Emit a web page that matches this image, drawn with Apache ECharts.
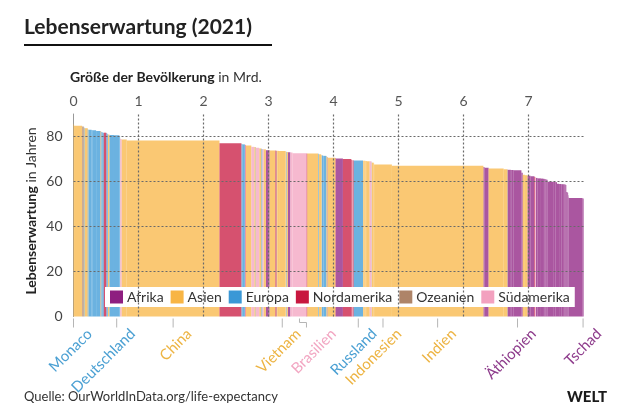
<!DOCTYPE html>
<html><head><meta charset="utf-8">
<script src="https://cdn.jsdelivr.net/npm/echarts@6/dist/echarts.min.js"></script>
<style>html,body{margin:0;padding:0;background:#fff}#c{width:630px;height:420px}</style>
</head><body><div id="c"></div>
<script>
// Countries sorted by life expectancy (2021), population in millions
const countries = ['Monaco','Hongkong','Macau','Japan','Australien','Schweiz','Südkorea','Norwegen','Singapur','Spanien','Schweden','Italien','Island','Frankreich','Neuseeland','Israel','Irland','Finnland','Belgien','Niederlande','Kanada','Österreich','Dänemark','Portugal','Taiwan','Slowenien','Großbritannien','Deutschland','Griechenland','Katar','Chile','Thailand','VAE','China','USA','Kroatien','Tschechien','Polen','Albanien','Costa Rica','Panama','Uruguay','Türkei','Argentinien','Sri Lanka','Bosnien und Herzegowina','Kolumbien','Malaysia','Slowakei','Ungarn','Ecuador','Saudi-Arabien','Algerien','Tunesien','Iran','Nicaragua','Kuba','Litauen','Jordanien','Nordkorea','Vietnam','Oman','Libanon','Serbien','Syrien','Marokko','Peru','Brasilien','Dominikanische Republik','Bangladesch','Belarus','Usbekistan','Armenien','Georgien','Kuwait','Bahrain','Rumänien','Bulgarien','Ukraine','Tadschikistan','Mongolei','Palästina','Libyen','Philippinen','Fidschi','El Salvador','Ägypten','Mexiko','Jamaika','Honduras','Paraguay','Guatemala','Russland','Kirgisistan','Kasachstan','Aserbaidschan','Turkmenistan','Kambodscha','Irak','Venezuela','Moldau','Nepal','Laos','Indonesien','Indien','Senegal','Tansania','Pakistan','Myanmar','Papua-Neuguinea','Sudan','Ruanda','Madagaskar','Äthiopien','Malawi','Jemen','Afghanistan','Uganda','Südafrika','Haiti','Bolivien','Niger','Kenia','Ghana','Sambia','Simbabwe','Togo','Benin','Burundi','DR Kongo','Kamerun','Burkina Faso','Mosambik','Angola','Elfenbeinküste','Mali','Guinea','Sierra Leone','Liberia','Somalia','Südsudan','Zentralafrikanische Republik','Lesotho','Nigeria','Tschad'];
const continentCodes = ['Eu','As','As','As','Oz','Eu','As','Eu','As','Eu','Eu','Eu','Eu','Eu','Oz','As','Eu','Eu','Eu','Eu','NA','Eu','Eu','Eu','As','Eu','Eu','Eu','Eu','As','SA','As','As','As','NA','Eu','Eu','Eu','Eu','NA','NA','SA','As','SA','As','Eu','SA','As','Eu','Eu','SA','As','Af','Af','As','NA','NA','Eu','As','As','As','As','As','Eu','As','Af','SA','SA','NA','As','Eu','As','As','As','As','As','Eu','Eu','Eu','As','As','As','Af','As','Oz','NA','Af','NA','NA','NA','SA','NA','Eu','As','As','As','As','As','As','SA','Eu','As','As','As','As','Af','Af','As','As','Oz','Af','Af','Af','Af','Af','As','As','Af','Af','NA','SA','Af','Af','Af','Af','Af','Af','Af','Af','Af','Af','Af','Af','Af','Af','Af','Af','Af','Af','Af','Af','Af','Af','Af','Af'];
const population = [0.04,7.5,0.7,124.6,25.9,8.7,51.8,5.4,5.9,47.5,10.5,59.2,0.4,64.5,5.1,8.9,5.0,5.5,11.6,17.5,38.2,9.0,5.9,10.3,23.9,2.1,67.3,83.4,10.4,2.7,19.5,71.6,9.4,1425.9,336.5,4.1,10.5,38.3,2.9,5.2,4.4,3.4,84.8,45.3,21.8,3.3,51.5,33.6,5.4,9.7,17.8,35.9,44.2,12.3,87.9,6.9,11.3,2.8,11.1,26.1,97.5,4.5,5.6,6.8,21.3,37.1,33.7,214.3,11.1,169.4,9.3,34.1,2.8,3.8,4.3,1.5,19.1,6.9,43.5,9.8,3.3,5.1,6.7,113.9,0.9,6.3,109.3,126.7,2.8,10.3,6.7,17.6,145.1,6.5,19.2,10.3,6.3,16.6,43.5,28.2,2.6,30.0,7.4,273.8,1407.6,16.9,63.6,231.4,53.8,9.9,46.9,13.5,29.0,120.3,19.9,32.9,40.1,45.9,59.4,11.4,12.1,25.3,53.0,32.8,19.5,16.0,8.6,12.9,12.6,95.9,27.2,22.1,32.1,34.5,27.5,21.9,13.5,8.4,5.2,17.1,10.7,5.5,2.3,213.4,17.2];
const lifeExpectancy = [85.9,85.5,85.4,84.8,84.5,84.0,83.7,83.2,83.0,83.0,82.9,82.8,82.7,82.5,82.5,82.3,82.0,82.0,81.9,81.7,81.7,81.6,81.4,81.0,80.9,80.7,80.7,80.6,80.1,79.3,78.9,78.7,78.7,78.2,77.0,76.9,76.7,76.5,76.4,76.3,76.2,76.1,76.0,75.4,75.3,75.2,75.0,74.7,74.6,74.5,74.4,74.3,73.9,73.9,73.8,73.8,73.7,73.7,73.7,73.6,73.6,73.4,73.3,73.2,73.1,73.0,72.9,72.6,72.5,72.4,72.3,72.1,72.0,71.9,71.8,71.7,71.6,71.5,71.4,71.2,71.0,70.9,70.8,70.6,70.5,70.4,70.2,70.0,69.8,69.7,69.6,69.5,69.3,69.2,69.2,69.2,69.1,69.1,69.0,69.0,68.8,68.4,68.1,67.6,67.0,66.4,66.1,65.8,65.5,65.3,65.2,65.1,65.1,65.0,63.9,63.0,62.8,62.6,62.3,62.1,62.0,61.6,61.4,61.3,61.2,61.1,61.0,60.9,60.8,59.9,59.8,59.7,59.0,58.9,58.8,58.8,58.7,58.6,58.5,55.3,55.0,53.9,53.1,52.7,52.5];
const continents = ['Afrika','Asien','Europa','Nordamerika','Ozeanien','Südamerika'];
const continentKeys = ['Af','As','Eu','NA','Oz','SA'];
const labeledCountries = ['Monaco','Deutschland','China','Vietnam','Brasilien','Russland','Indonesien','Indien','Äthiopien','Tschad'];
const xTicks = [0,1,2,3,4,5,6,7];
const yTicks = [0,20,40,60,80];

const colors = ['#8E1E80','#F8B544','#3A98D6','#C8173F','#AE8468','#F3A1BF'];
const labelColors = ['#8E3C8C','#EDB443','#4BA0D3','#C8173F','#AE8468','#F2A6C2'];
const FONT = 'Lato, "Noto Sans", sans-serif';

// cumulative population (billions)
const rows = [];
let cum = 0;
countries.forEach((n, i) => {
  const x0 = cum / 1000; cum += population[i]; const x1 = cum / 1000;
  rows.push({name: n, ci: continentKeys.indexOf(continentCodes[i]), x0, x1, le: lifeExpectancy[i]});
});
const total = cum / 1000;
const PX_PER_BN = 65;

const chart = echarts.init(document.getElementById('c'), null, {renderer: 'canvas'});

const barSeries = continents.map((c, ci) => ({
  type: 'custom', name: c, z: 2, animation: false,
  itemStyle: {color: colors[ci]},
  encode: {x: [0, 1], y: 2},
  renderItem: (params, api) => {
    const a = api.coord([api.value(0), api.value(2)]);
    const b = api.coord([api.value(1), 0]);
    return {type: 'rect', shape: {x: a[0], y: a[1], width: b[0] - a[0], height: b[1] - a[1]},
      style: {fill: colors[ci], opacity: 0.75}};
  },
  data: rows.filter(r => r.ci === ci).map(r => [r.x0, r.x1, r.le, r.name])
}));

const labelRows = rows.filter(r => labeledCountries.includes(r.name));
const labelSeries = {
  type: 'custom', z: 5, silent: true, animation: false, clip: false,
  encode: {x: 0, y: 1},
  renderItem: (params, api) => {
    const r = labelRows[params.dataIndex];
    const p = api.coord([api.value(0), 0]);
    const y0 = p[1] + 2, y1 = p[1] + 11;
    let tx = p[0];
    const children = [];
    if (r.name === 'Brasilien') {
      const ex = p[0] + 7;
      children.push({type: 'polyline', shape: {points: [[p[0], y0], [p[0], y0 + 4], [ex, y0 + 4], [ex, y1]]},
        style: {stroke: '#b5b5b5', lineWidth: 1, fill: null}});
      tx = p[0] + 18;
    } else {
      children.push({type: 'line', shape: {x1: p[0], y1: y0, x2: p[0], y2: y1}, style: {stroke: '#b5b5b5', lineWidth: 1}});
    }
    children.push({type: 'text', x: tx + 16, y: p[1] + 15, rotation: Math.PI / 4,
      style: {text: r.name, fill: labelColors[r.ci], font: '15px ' + FONT, align: 'right', verticalAlign: 'middle'}});
    return {type: 'group', children};
  },
  data: labelRows.map(r => [(r.x0 + r.x1) / 2, 0])
};

const gridSeries = {
  type: 'line', data: [], z: 1, silent: true, animation: false,
  markLine: {
    silent: true, symbol: ['none', 'none'], animation: false, label: {show: false},
    lineStyle: {type: [2, 2], color: '#6a6a6a', width: 1.2},
    data: yTicks.slice(1).map(v => ({yAxis: v})).concat(xTicks.slice(1).map(v => ({xAxis: v})))
  }
};

chart.setOption({
  animation: false,
  backgroundColor: '#fff',
  grid: {left: 73.5, top: 114, width: total * PX_PER_BN, height: 202.5},
  xAxis: {
    type: 'value', position: 'top', min: 0, max: total, interval: 1,
    axisLine: {show: false}, axisTick: {show: false}, splitLine: {show: false},
    axisLabel: {margin: 6, color: '#555', fontSize: 14, fontFamily: FONT,
      formatter: v => (xTicks.includes(v) ? String(v) : '')}
  },
  yAxis: {
    type: 'value', min: 0, max: 90, interval: 20,
    axisLine: {show: true, lineStyle: {color: '#999', width: 1}}, axisTick: {show: false}, splitLine: {show: false},
    axisLabel: {margin: 11, color: '#444', fontSize: 14, fontFamily: FONT,
      formatter: v => (yTicks.includes(v) ? String(v) : '')}
  },
  legend: {
    data: continents, left: 105, top: 287, icon: 'rect', itemWidth: 13, itemHeight: 13, itemGap: 7,
    backgroundColor: '#fff', padding: [3, 5], selectedMode: false,
    textStyle: {fontSize: 14, color: '#333', fontFamily: FONT, padding: [0, 0, 0, -1]}
  },
  graphic: [
    {type: 'text', left: 24, top: 17, style: {text: 'Lebenserwartung (2021)', font: 'bold 21px ' + FONT, fill: '#222'}},
    {type: 'rect', left: 24, top: 44, shape: {width: 248, height: 2}, style: {fill: '#111'}},
    {type: 'text', left: 70, top: 70, style: {
      text: '{b|Größe der Bevölkerung}{n| in Mrd.}',
      rich: {b: {font: 'bold 14px ' + FONT, fill: '#222'}, n: {font: '14px ' + FONT, fill: '#333'}}}},
    {type: 'text', x: 31, y: 211, rotation: Math.PI / 2, style: {
      text: '{b|Lebenserwartung}{n| in Jahren}', align: 'center', verticalAlign: 'middle',
      rich: {b: {font: 'bold 14px ' + FONT, fill: '#222'}, n: {font: '14px ' + FONT, fill: '#333'}}}},
    {type: 'text', left: 24, top: 390, style: {text: 'Quelle: OurWorldInData.org/life-expectancy', font: '13px ' + FONT, fill: '#333'}},
    {type: 'text', right: 23, top: 390, style: {text: 'WELT', font: '900 15px ' + FONT, fill: '#1a1a1a'}}
  ],
  series: [gridSeries].concat(barSeries, [labelSeries])
});
</script></body></html>
